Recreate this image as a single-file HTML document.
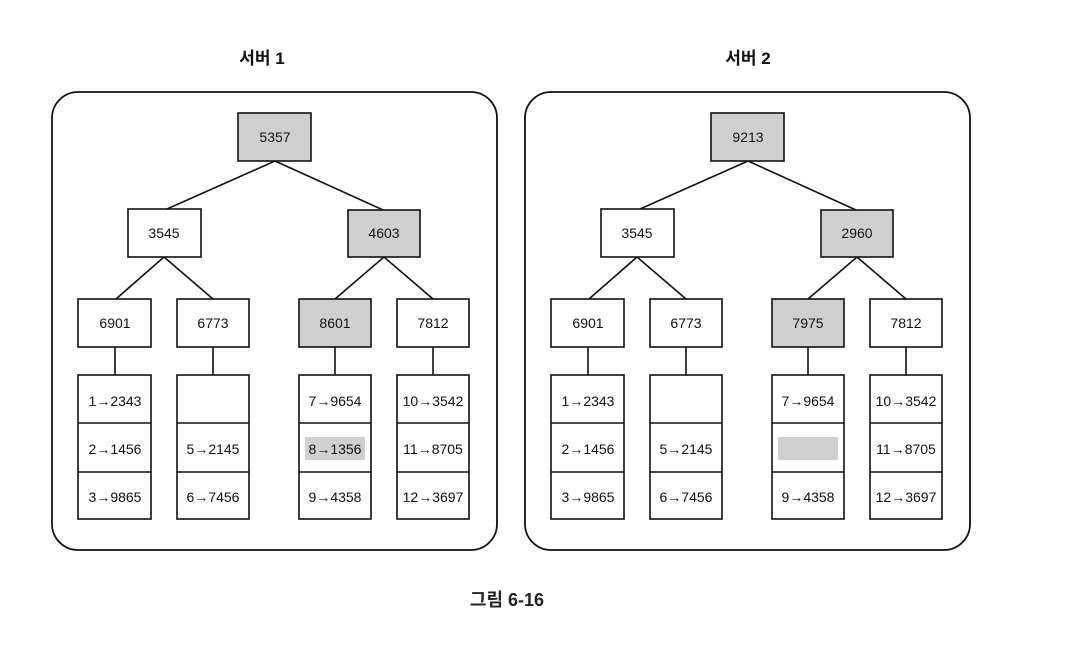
<!DOCTYPE html>
<html><head><meta charset="utf-8"><style>
body{margin:0;background:#fff;}
svg text{font-family:"Liberation Sans","Noto Sans CJK KR",sans-serif;}
</style></head><body>
<svg width="1072" height="656" viewBox="0 0 1072 656" xmlns="http://www.w3.org/2000/svg">
<defs>
<g id="tree" stroke="#111" stroke-width="1.6" fill="none">
  <rect x="52" y="92" width="445" height="458" rx="26" stroke-width="1.8"/>
  <line x1="275" y1="161" x2="167" y2="209"/>
  <line x1="275" y1="161" x2="383" y2="210"/>
  <line x1="164" y1="257" x2="116" y2="299"/>
  <line x1="164" y1="257" x2="213" y2="299"/>
  <line x1="384" y1="257" x2="335" y2="299"/>
  <line x1="384" y1="257" x2="433" y2="299"/>
  <line x1="115" y1="347" x2="115" y2="375"/>
  <line x1="213" y1="347" x2="213" y2="375"/>
  <line x1="335" y1="347" x2="335" y2="375"/>
  <line x1="433" y1="347" x2="433" y2="375"/>
  <rect x="238" y="113" width="73" height="48" fill="#cfcfcf"/>
  <rect x="128" y="209" width="73" height="48" fill="#fff"/>
  <rect x="348" y="210" width="72" height="47" fill="#cfcfcf"/>
  <rect x="78" y="299" width="73" height="48" fill="#fff"/>
  <rect x="177" y="299" width="72" height="48" fill="#fff"/>
  <rect x="299" y="299" width="72" height="48" fill="#cfcfcf"/>
  <rect x="397" y="299" width="72" height="48" fill="#fff"/>
  <rect x="78" y="375" width="73" height="144" fill="#fff"/>
  <rect x="177" y="375" width="72" height="144" fill="#fff"/>
  <rect x="299" y="375" width="72" height="144" fill="#fff"/>
  <rect x="397" y="375" width="72" height="144" fill="#fff"/>
  <line x1="78" y1="423" x2="151" y2="423"/><line x1="78" y1="472" x2="151" y2="472"/>
  <line x1="177" y1="423" x2="249" y2="423"/><line x1="177" y1="472" x2="249" y2="472"/>
  <line x1="299" y1="423" x2="371" y2="423"/><line x1="299" y1="472" x2="371" y2="472"/>
  <line x1="397" y1="423" x2="469" y2="423"/><line x1="397" y1="472" x2="469" y2="472"/>
  <rect x="305" y="437" width="60" height="23" fill="#cfcfcf" stroke="none"/>
</g>
<g id="leaves" font-size="14" fill="#111" text-anchor="middle">
  <text x="164" y="238">3545</text>
  <text x="115" y="328">6901</text>
  <text x="213" y="328">6773</text>
  <text x="433" y="328">7812</text>
  <text x="115" y="406">1→2343</text>
  <text x="115" y="454">2→1456</text>
  <text x="115" y="502">3→9865</text>
  <text x="213" y="454">5→2145</text>
  <text x="213" y="502">6→7456</text>
  <text x="335" y="406">7→9654</text>
  <text x="335" y="502">9→4358</text>
  <text x="433" y="406">10→3542</text>
  <text x="433" y="454">11→8705</text>
  <text x="433" y="502">12→3697</text>
</g>
</defs>
<text x="262" y="64" font-size="17" font-weight="bold" text-anchor="middle" fill="#111">서버 1</text>
<text x="748" y="64" font-size="17" font-weight="bold" text-anchor="middle" fill="#111">서버 2</text>
<use href="#tree"/><use href="#leaves"/>
<g font-size="14" fill="#111" text-anchor="middle">
<text x="275" y="142">5357</text><text x="384" y="238">4603</text><text x="335" y="328">8601</text><text x="335" y="454">8→1356</text>
</g>
<g transform="translate(473,0)"><use href="#tree"/><use href="#leaves"/>
<g font-size="14" fill="#111" text-anchor="middle">
<text x="275" y="142">9213</text><text x="384" y="238">2960</text><text x="335" y="328">7975</text>
</g></g>
<text x="507" y="606" font-size="18" font-weight="bold" text-anchor="middle" fill="#222">그림 6-16</text>
</svg>
</body></html>
